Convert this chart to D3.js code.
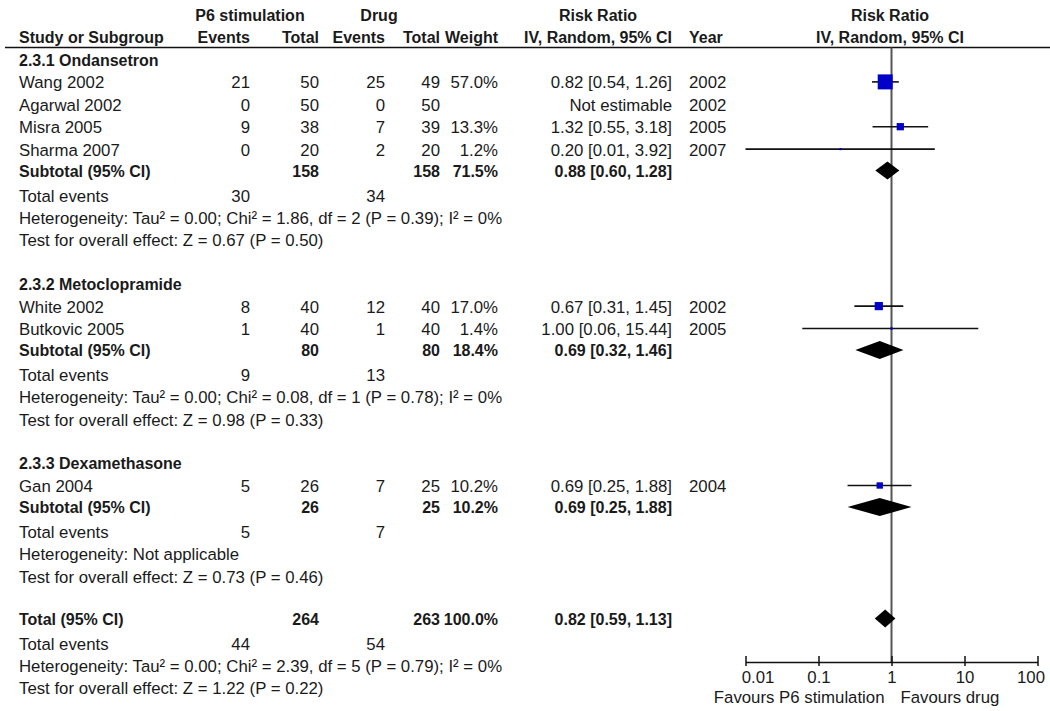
<!DOCTYPE html>
<html>
<head>
<meta charset="utf-8">
<script src="https://cdn.jsdelivr.net/npm/d3@7/dist/d3.min.js"></script>
<style>
  html, body { margin: 0; padding: 0; background: #fff; }
  svg { display: block; }
  text { font-family: "Liberation Sans", Arial, sans-serif; font-size: 16.8px; fill: #1a1a1a; }
  .b { font-weight: bold; font-size: 16px; }
</style>
</head>
<body>
<svg id="chart" width="1050" height="711"></svg>
<script>
// ---------------- data ----------------
const groupNames = ["2.3.1 Ondansetron", "2.3.2 Metoclopramide", "2.3.3 Dexamethasone"];
const studyNames = ["Wang 2002", "Agarwal 2002", "Misra 2005", "Sharma 2007", "White 2002", "Butkovic 2005", "Gan 2004"];
const studyGroup = [0, 0, 0, 0, 1, 1, 2];
const eventsP6   = [21, 0, 9, 0, 8, 1, 5];
const totalP6    = [50, 50, 38, 20, 40, 40, 26];
const eventsDrug = [25, 0, 7, 2, 12, 1, 7];
const totalDrug  = [49, 50, 39, 20, 40, 40, 25];
const weights    = [57.0, null, 13.3, 1.2, 17.0, 1.4, 10.2];
const rr         = [0.82, null, 1.32, 0.20, 0.67, 1.00, 0.69];
const rrLow      = [0.54, null, 0.55, 0.01, 0.31, 0.06, 0.25];
const rrHigh     = [1.26, null, 3.18, 3.92, 1.45, 15.44, 1.88];
const years      = [2002, 2002, 2005, 2007, 2002, 2005, 2004];

const subTotalP6    = [158, 80, 26];
const subTotalDrug  = [158, 80, 25];
const subWeight     = [71.5, 18.4, 10.2];
const subRR         = [0.88, 0.69, 0.69];
const subLow        = [0.60, 0.32, 0.25];
const subHigh       = [1.28, 1.46, 1.88];
const subEventsP6   = [30, 9, 5];
const subEventsDrug = [34, 13, 7];
const subHetero = [
  "Heterogeneity: Tau\u00b2 = 0.00; Chi\u00b2 = 1.86, df = 2 (P = 0.39); I\u00b2 = 0%",
  "Heterogeneity: Tau\u00b2 = 0.00; Chi\u00b2 = 0.08, df = 1 (P = 0.78); I\u00b2 = 0%",
  "Heterogeneity: Not applicable"
];
const subTest = [
  "Test for overall effect: Z = 0.67 (P = 0.50)",
  "Test for overall effect: Z = 0.98 (P = 0.33)",
  "Test for overall effect: Z = 0.73 (P = 0.46)"
];

const overallTotalP6 = 264, overallTotalDrug = 263, overallWeight = 100.0;
const overallRR = 0.82, overallLow = 0.59, overallHigh = 1.13;
const overallEventsP6 = 44, overallEventsDrug = 54;
const overallHetero = "Heterogeneity: Tau\u00b2 = 0.00; Chi\u00b2 = 2.39, df = 5 (P = 0.79); I\u00b2 = 0%";
const overallTest = "Test for overall effect: Z = 1.22 (P = 0.22)";

const axisTicks = [0.01, 0.1, 1, 10, 100];
const axisTickLabels = ["0.01", "0.1", "1", "10", "100"];
const favoursLeft = "Favours P6 stimulation", favoursRight = "Favours drug";

// ---------------- layout ----------------
const svg = d3.select("#chart");
svg.append("rect").attr("width", 1050).attr("height", 711).attr("fill", "#fff");

const col = { name: 19, eP6: 250, nP6: 319, eDr: 385, nDr: 440, w: 498, rr: 672, year: 689 };
const x = d3.scaleLog().domain([0.01, 100]).range([745.5, 1037.5]);
const sq = d3.scaleSqrt().domain([0, 57]).range([0, 15]);
const fmt2 = d3.format(".2f");
const fmtW = v => d3.format(".1f")(v) + "%";
const ciText = (m, l, h) => `${fmt2(m)} [${fmt2(l)}, ${fmt2(h)}]`;

function txt(xp, y, s, anchor, bold) {
  svg.append("text").attr("x", xp).attr("y", y)
    .attr("dy", "0.36em")
    .attr("text-anchor", anchor || "start")
    .attr("class", bold ? "b" : null)
    .text(s);
}

// headers
txt(250, 15, "P6 stimulation", "middle", true);
txt(379, 15, "Drug", "middle", true);
txt(598, 15, "Risk Ratio", "middle", true);
txt(890, 15, "Risk Ratio", "middle", true);
txt(col.name, 37, "Study or Subgroup", "start", true);
txt(col.eP6, 37, "Events", "end", true);
txt(col.nP6, 37, "Total", "end", true);
txt(col.eDr, 37, "Events", "end", true);
txt(col.nDr, 37, "Total", "end", true);
txt(col.w, 37, "Weight", "end", true);
txt(col.rr, 37, "IV, Random, 95% CI", "end", true);
txt(col.year, 37, "Year", "start", true);
txt(890, 37, "IV, Random, 95% CI", "middle", true);

svg.append("line").attr("x1", 5).attr("x2", 1050).attr("y1", 47.5).attr("y2", 47.5)
  .attr("stroke", "#111").attr("stroke-width", 1.5);

// vertical line at RR = 1
const axisY = 662;
svg.append("line").attr("x1", x(1)).attr("x2", x(1)).attr("y1", 47.5).attr("y2", axisY)
  .attr("stroke", "#555").attr("stroke-width", 2);

function diamond(y, m, l, h) {
  const hh = 9;
  svg.append("path")
    .attr("d", `M${x(l)},${y} L${x(m)},${y - hh} L${x(h)},${y} L${x(m)},${y + hh} Z`)
    .attr("fill", "#000");
}

let y = 60;
groupNames.forEach((g, gi) => {
  txt(col.name, y, g, "start", true);
  const idx = studyNames.map((_, i) => i).filter(i => studyGroup[i] === gi);
  idx.forEach(i => {
    y += 22.4;
    txt(col.name, y, studyNames[i]);
    txt(col.eP6, y, eventsP6[i], "end");
    txt(col.nP6, y, totalP6[i], "end");
    txt(col.eDr, y, eventsDrug[i], "end");
    txt(col.nDr, y, totalDrug[i], "end");
    if (weights[i] != null) txt(col.w, y, fmtW(weights[i]), "end");
    txt(col.rr, y, rr[i] != null ? ciText(rr[i], rrLow[i], rrHigh[i]) : "Not estimable", "end");
    txt(col.year, y, years[i]);
    if (rr[i] != null) {
      svg.append("line").attr("x1", x(rrLow[i])).attr("x2", x(rrHigh[i]))
        .attr("y1", y - 0.5).attr("y2", y - 0.5)
        .attr("stroke", "#111").attr("stroke-width", 1.6);
      const s = Math.max(2, sq(weights[i]));
      svg.append("rect").attr("x", x(rr[i]) - s / 2).attr("y", y - 0.5 - s / 2)
        .attr("width", s).attr("height", s).attr("fill", "#0000c8");
    }
  });
  y += 21.5;
  txt(col.name, y, "Subtotal (95% CI)", "start", true);
  txt(col.nP6, y, subTotalP6[gi], "end", true);
  txt(col.nDr, y, subTotalDrug[gi], "end", true);
  txt(col.w, y, fmtW(subWeight[gi]), "end", true);
  txt(col.rr, y, ciText(subRR[gi], subLow[gi], subHigh[gi]), "end", true);
  diamond(y - 0.5, subRR[gi], subLow[gi], subHigh[gi]);
  y += 24.5;
  txt(col.name, y, "Total events");
  txt(col.eP6, y, subEventsP6[gi], "end");
  txt(col.eDr, y, subEventsDrug[gi], "end");
  y += 22.3;
  txt(col.name, y, subHetero[gi]);
  y += 22.3;
  txt(col.name, y, subTest[gi]);
  y += 44;
});

// overall
y = y - 44 + 43;
txt(col.name, y, "Total (95% CI)", "start", true);
txt(col.nP6, y, overallTotalP6, "end", true);
txt(col.nDr, y, overallTotalDrug, "end", true);
txt(col.w, y, fmtW(overallWeight), "end", true);
txt(col.rr, y, ciText(overallRR, overallLow, overallHigh), "end", true);
diamond(y - 1, overallRR, overallLow, overallHigh);
y += 24;
txt(col.name, y, "Total events");
txt(col.eP6, y, overallEventsP6, "end");
txt(col.eDr, y, overallEventsDrug, "end");
y += 22.3;
txt(col.name, y, overallHetero);
y += 22.3;
txt(col.name, y, overallTest);

// axis
const axis = d3.axisBottom(x).tickValues(axisTicks)
  .tickFormat((d, i) => axisTickLabels[i]).tickSize(4).tickSizeOuter(0);
const ga = svg.append("g").attr("transform", `translate(0,${axisY})`).call(axis);
ga.select(".domain").attr("stroke", "#111").attr("stroke-width", 1.5);
ga.selectAll(".tick line").attr("y1", -6).attr("y2", 4).attr("stroke", "#111").attr("stroke-width", 1.5);
ga.selectAll(".tick text")
  .attr("y", 9).attr("dy", "0.71em")
  .attr("font-family", null).attr("font-size", null).attr("fill", null)
  .attr("dx", (d, i) => i === 0 ? 12 : (i === axisTicks.length - 1 ? -7 : 0));
ga.attr("font-family", null).attr("font-size", null);

txt(x(1) - 7, 697, favoursLeft, "end");
txt(x(1) + 9, 697, favoursRight, "start");
</script>
</body>
</html>
